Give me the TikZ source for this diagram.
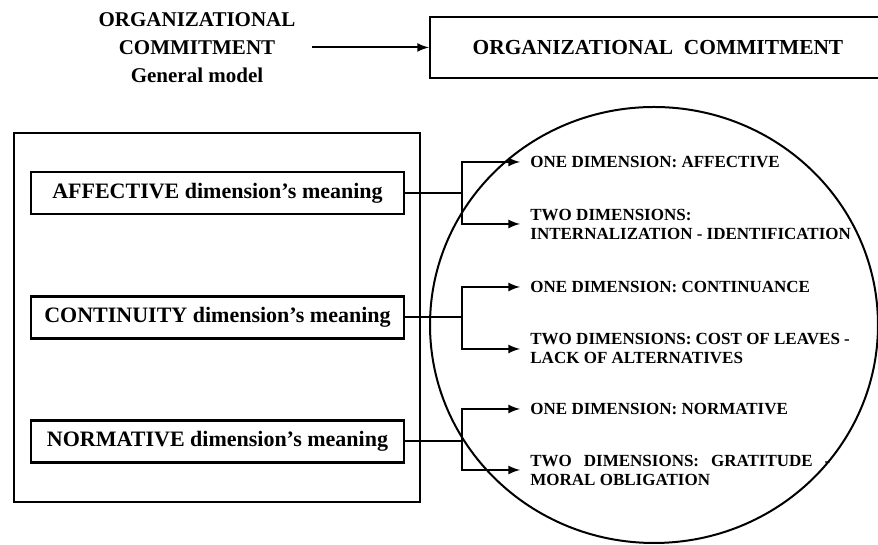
\documentclass[tikz,border=0pt]{standalone}
\usepackage{fontspec}
\setmainfont{Liberation Serif}

\tikzset{
  dimbox/.style={draw, line width=1.1pt, minimum width=186.5pt, minimum height=21pt,
    font=\bfseries\fontsize{11}{13}\selectfont},
  typetxt/.style={anchor=west, inner xsep=5pt, align=left,
    font=\bfseries\fontsize{8.5}{9.5}\selectfont},
  link/.style={line width=1pt, ->, >=latex}
}

\begin{document}
\begin{tikzpicture}[scale=.1757]
\useasboundingbox (0,0) rectangle (87.8,54.5);
% general model
\node[align=center, inner xsep=8pt, font=\bfseries\fontsize{10.5}{14}\selectfont] (model) at (19.7,49.7) {ORGANIZATIONAL\\COMMITMENT\\General model};
\node[draw, line width=1.1pt, minimum width=228pt, minimum height=30.5pt, font=\bfseries\fontsize{10.7}{13}\selectfont] (oc) at (65.8,49.75) {ORGANIZATIONAL\ \ COMMITMENT};
\draw[link] (model.east |- oc.west) -- (oc.west);

% dimensions
\node[draw, line width=1.1pt, minimum width=203pt, minimum height=184.5pt] (frame) at (21.7,22.75) {};
\node[dimbox] (aff) at (21.75,35.2) {AFFECTIVE dimension’s meaning};
\node[dimbox] (cont) at (21.75,22.75) {CONTINUITY dimension’s meaning};
\node[dimbox] (norm) at (21.75,10.35) {NORMATIVE dimension’s meaning};

\draw[line width=1pt] (65.4,22) ellipse (22.4 and 21.8);

\node[typetxt] (affone) at (52,38.3) {ONE DIMENSION: AFFECTIVE};
\node[typetxt] (afftwo) at (52,32.1) {TWO DIMENSIONS:\\INTERNALIZATION - IDENTIFICATION};
\node[typetxt] (contone) at (52,25.8) {ONE DIMENSION: CONTINUANCE};
\node[typetxt] (conttwo) at (52,19.6) {TWO DIMENSIONS: COST OF LEAVES -\\LACK OF ALTERNATIVES};
\node[typetxt] (normone) at (52,13.6) {ONE DIMENSION: NORMATIVE};
\node[typetxt] (normtwo) at (52,7.5) {\makebox[150pt][s]{TWO DIMENSIONS: GRATITUDE -}\\MORAL OBLIGATION};

% branches
\coordinate (affB) at (46.2,35.2);
\coordinate (contB) at (46.2,22.75);
\coordinate (normB) at (46.2,10.35);
\draw[link] (aff.east) -- (affB) |- (affone.west);
\draw[link] (affB) |- (afftwo.west);
\draw[link] (cont.east) -- (contB) |- (contone.west);
\draw[link] (contB) |- (conttwo.west);
\draw[link] (norm.east) -- (normB) |- (normone.west);
\draw[link] (normB) |- (normtwo.west);
\end{tikzpicture}
\end{document}
